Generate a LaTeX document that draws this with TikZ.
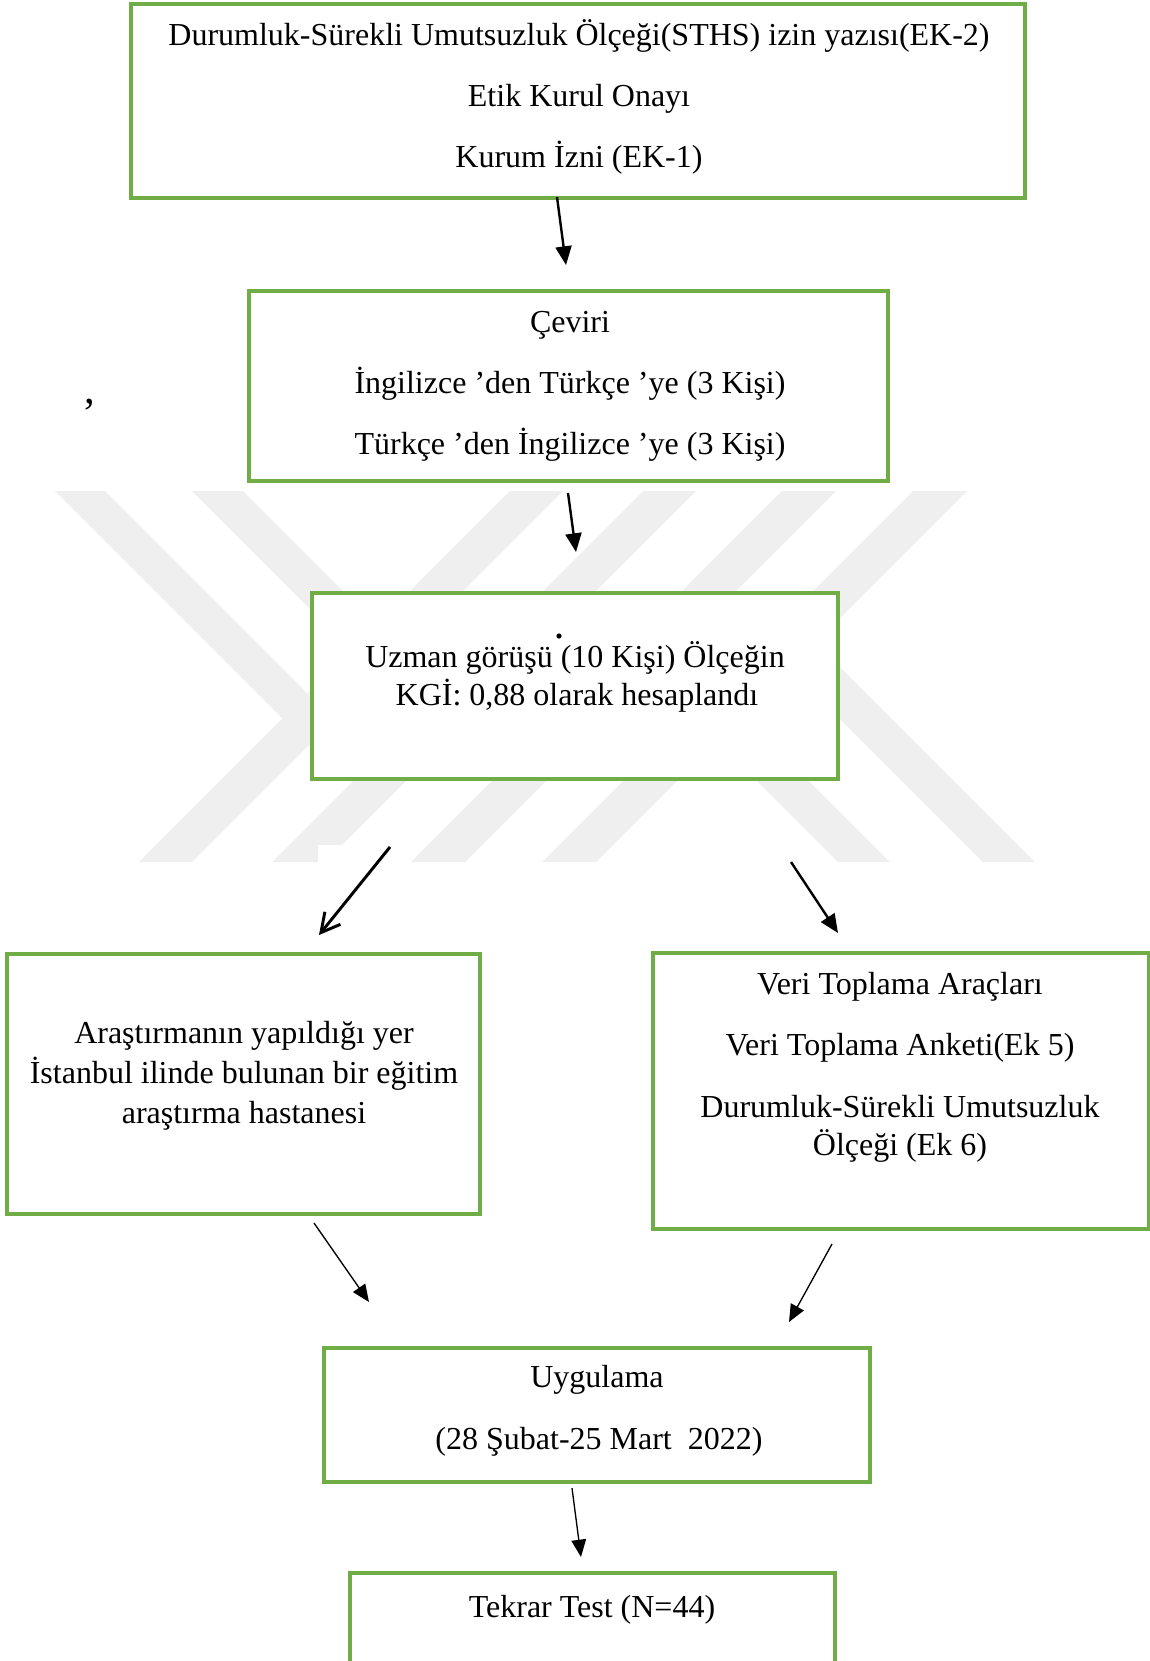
\documentclass[tikz,border=0pt]{standalone}
\usepackage{fontspec}
\setmainfont{Liberation Serif}
\usetikzlibrary{fit,arrows.meta}
\definecolor{boxgreen}{HTML}{70AD47}
\definecolor{markgray}{RGB}{239,239,239}

\begin{document}
\begin{tikzpicture}[x=0.375pt,y=-0.375pt,
    box/.style={draw=boxgreen,line width=1.2pt,fill=white,inner sep=0pt},
    line/.style={anchor=base,inner sep=0pt,font=\fontsize{12}{14}\selectfont},
    arr/.style={-{Triangle[length=7pt,width=6pt]},line width=0.9pt},
    thinarr/.style={-{Triangle[length=6.5pt,width=5.5pt]},line width=0.5pt}]

  \useasboundingbox (0,0) rectangle (1150,1661);
  \clip (0,0) rectangle (1150,1661);

  % watermark
  \fill [markgray] (55,491) -- (105,491) -- (384,770) -- (334,770) -- cycle;
  \fill [markgray] (192,491) -- (243,491) -- (522,770) -- (471,770) -- cycle;
  \fill [markgray] (510,491) -- (563,491) -- (192,862) -- (139,862) -- cycle;
  \fill [markgray] (643,491) -- (696,491) -- (325,862) -- (272,862) -- cycle;
  \fill [markgray] (782,491) -- (836,491) -- (465,862) -- (411,862) -- cycle;
  \fill [markgray] (913,491) -- (967,491) -- (596,862) -- (542,862) -- cycle;
  \fill [markgray] (596,620) -- (648,620) -- (890,862) -- (838,862) -- cycle;
  \fill [markgray] (741,620) -- (793,620) -- (1035,862) -- (983,862) -- cycle;
  \fill [white] (318,845) rectangle (395,870);

  \node (izin) [box, fit={(131,4) (1025,198)}] {};
  \node (izin1) [line] at (579,45)
        {Durumluk-Sürekli Umutsuzluk Ölçeği(STHS) izin yazısı(EK-2)};
  \node (izin2) [line] at (579,106) {Etik Kurul Onayı};
  \node (izin3) [line] at (579,167) {Kurum İzni (EK-1)};

  \node (virgul) [line, font=\fontsize{16}{18}\selectfont] at (90,403) {,};

  \node (ceviri) [box, fit={(249,291) (888,481)}] {};
  \node (ceviri1) [line] at (570,332) {Çeviri};
  \node (ceviri2) [line] at (570,393) {İngilizce ’den Türkçe ’ye (3 Kişi)};
  \node (ceviri3) [line] at (570,454) {Türkçe ’den İngilizce ’ye (3 Kişi)};

  \node (uzman) [box, fit={(312,593) (838,779)}] {};
  \node (uzman1) [line] at (575,667) {Uzman görüşü (10 Kişi) Ölçeğin};
  \node (uzman2) [line] at (577,705) {KGİ: 0,88 olarak hesaplandı};
  \fill (559,636) circle (2.6);

  \node (yer) [box, fit={(7,954) (480,1214)}] {};
  \node (yer1) [line] at (244,1043) {Araştırmanın yapıldığı yer};
  \node (yer2) [line] at (244,1083) {İstanbul ilinde bulunan bir eğitim};
  \node (yer3) [line] at (244,1123) {araştırma hastanesi};

  \node (arac) [box, fit={(653,953) (1149,1229)}] {};
  \node (arac1) [line] at (900,994) {Veri Toplama Araçları};
  \node (arac2) [line] at (900,1055) {Veri Toplama Anketi(Ek 5)};
  \node (arac3) [line] at (900,1117) {Durumluk-Sürekli Umutsuzluk};
  \node (arac4) [line] at (900,1155) {Ölçeği (Ek 6)};

  \node (uygulama) [box, fit={(324,1348) (870,1482)}] {};
  \node (uygulama1) [line] at (597,1387) {Uygulama};
  \node (uygulama2) [line] at (599,1449) {(28 Şubat-25 Mart~ 2022)};

  \node (tekrar) [box, fit={(350,1573) (835,1720)}] {};
  \node (tekrar1) [line] at (592,1617) {Tekrar Test (N=44)};

  \coordinate (s1) at (557,197);   \coordinate (e1) at (566,265);
  \coordinate (s2) at (568,493);   \coordinate (e2) at (576,552);
  \coordinate (s3) at (390,847);   \coordinate (e3) at (319,935);
  \coordinate (s4) at (791,862);   \coordinate (e4) at (838,933);
  \coordinate (s5) at (314,1223);  \coordinate (e5) at (369,1302);
  \coordinate (s6) at (832,1244);  \coordinate (e6) at (789,1322);
  \coordinate (s7) at (572,1488);  \coordinate (e7) at (581,1557);

  \draw [arr] (s1) -- (e1);
  \draw [arr] (s2) -- (e2);
  \draw [-{Straight Barb[length=7pt,width=7.5pt]},line width=1.1pt] (s3) -- (e3);
  \draw [arr] (s4) -- (e4);
  \draw [thinarr] (s5) -- (e5);
  \draw [thinarr] (s6) -- (e6);
  \draw [thinarr] (s7) -- (e7);

\end{tikzpicture}
\end{document}
